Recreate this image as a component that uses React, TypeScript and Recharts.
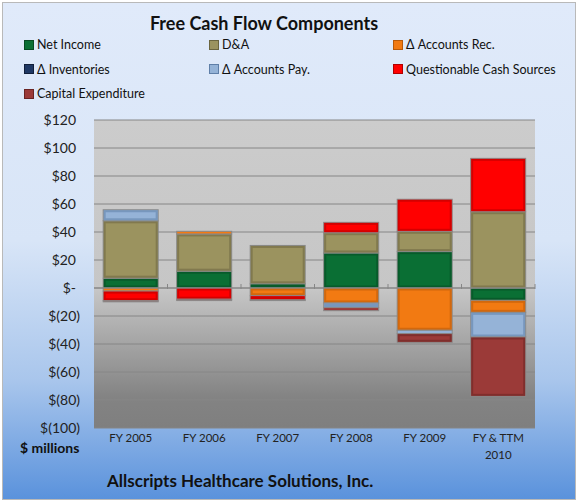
import { BarChart, Bar, XAxis, YAxis, CartesianGrid, ReferenceLine } from "recharts";

const categories = ["FY 2005", "FY 2006", "FY 2007", "FY 2008", "FY 2009", "FY & TTM 2010"];
const netIncome = [7, 12, 3, 25, 26, -8.8];
const depreciation = [41, 26.6, 27.4, 14.5, 14.5, 54.5];
const accountsRec = [-2.2, 1.9, -5.5, -10.7, -30.2, -8.6];
const inventories = [0, 0, 0, 0, 0, 0];
const accountsPay = [7.9, 0, 0, -3.3, -2.4, -17.6];
const questionable = [-6.9, -8, -3, 7.4, 22.9, 38.1];
const capex = [-0.8, -1, -0.5, -2.2, -6.2, -42.4];
const yTicks = [120, 100, 80, 60, 40, 20, 0, -20, -40, -60, -80, -100];

const SERIES = [
  { key: "ni", name: "Net Income", color: "#0a6f34", edge: "#064a22" },
  { key: "da", name: "D&A", color: "#9b935f", edge: "#6b653f" },
  { key: "ar", name: "\u0394 Accounts Rec.", color: "#f27a12", edge: "#b85a0a" },
  { key: "inv", name: "\u0394 Inventories", color: "#1f3864", edge: "#121f3a" },
  { key: "ap", name: "\u0394 Accounts Pay.", color: "#95b3d7", edge: "#5f7fa8" },
  { key: "qcs", name: "Questionable Cash Sources", color: "#ff0000", edge: "#b00000" },
  { key: "capex", name: "Capital Expenditure", color: "#9b3a38", edge: "#6a2423" },
];

const rows = categories.map((name, i) => ({
  name,
  ni: netIncome[i],
  da: depreciation[i],
  ar: accountsRec[i],
  inv: inventories[i],
  ap: accountsPay[i],
  qcs: questionable[i],
  capex: capex[i],
}));

const FONT = "Lato, 'Noto Sans', sans-serif";

function bevel(color: string, edge: string) {
  return (props: any) => {
    const { x, y, width, height } = props;
    if (!height || Math.abs(height) < 0.5) return <g />;
    const top = height < 0 ? y + height : y;
    const h = Math.abs(height);
    return (
      <g>
        <rect x={x} y={top} width={width} height={h} fill={color} stroke="#8a8a8a" strokeWidth={1} />
        {h > 4 && (
          <rect x={x + 1.5} y={top + 1.5} width={width - 3} height={h - 3} fill="none" stroke={edge} strokeWidth={2} opacity={0.55} />
        )}
      </g>
    );
  };
}

const fmtY = (v: number) => (v === 0 ? "$-" : v < 0 ? `$(${-v})` : `$${v}`);

const YTick = (props: any) => {
  const { y, payload } = props;
  const v = payload.value as number;
  return (
    <text x={v < 0 ? 80 : 76} y={y} dy={5} textAnchor="end" fontSize={14} fill="#222" fontFamily={FONT}>
      {fmtY(v)}
    </text>
  );
};

const XTick = (props: any) => {
  const { x, payload } = props;
  const label = String(payload.value);
  const lines = label.length > 10 ? [label.slice(0, label.lastIndexOf(" ")), label.slice(label.lastIndexOf(" ") + 1)] : [label];
  return (
    <text x={x} y={442} textAnchor="middle" fontSize={11.5} fill="#222" fontFamily={FONT}>
      {lines.map((l, i) => (
        <tspan key={i} x={x} dy={i === 0 ? 0 : 17}>{l}</tspan>
      ))}
    </text>
  );
};

// zero line with small tick marks between categories
const ZeroAxis = (props: any) => {
  const { x1, x2, y1 } = props;
  const n = categories.length;
  const step = (x2 - x1) / n;
  return (
    <g>
      <line x1={x1} x2={x2} y1={y1} y2={y1} stroke="#868686" strokeWidth={1} />
      {categories.map((_, i) => (
        <line key={i} x1={x1 + step * (i + 1)} x2={x1 + step * (i + 1)} y1={y1 - 4} y2={y1 + 1} stroke="#868686" />
      ))}
    </g>
  );
};

export default function App() {
  return (
    <div
      style={{
        position: "absolute",
        left: 0,
        top: 0,
        width: 578,
        height: 502,
        fontFamily: FONT,
      }}
    >
      <div
        style={{
          position: "absolute",
          left: 2,
          top: 2,
          width: 572,
          height: 496,
          border: "1px solid #b9b9b9",
          background: "linear-gradient(to bottom, #e0eafa 0%, #d8e5f7 48%, #a9c6ec 76%, #5a92dc 100%)",
        }}
      />
      <div style={{ position: "absolute", left: 0, width: 528, top: 12, textAlign: "center", fontWeight: 700, fontSize: 18, color: "#111" }}>
        Free Cash Flow Components
      </div>
      {SERIES.map((s, i) => (
        <div
          key={s.key}
          style={{
            position: "absolute",
            left: [24, 209, 393][i % 3],
            top: 37 + Math.floor(i / 3) * 24.5,
            display: "flex",
            alignItems: "center",
            fontSize: 12.5,
            color: "#111",
            whiteSpace: "nowrap",
          }}
        >
          <span
            style={{
              display: "inline-block",
              width: 8,
              height: 8,
              background: s.color,
              border: `1px solid ${s.edge}`,
              marginRight: 3,
            }}
          />
          {s.name}
        </div>
      ))}
      <div style={{ position: "absolute", left: 20, top: 439, fontWeight: 700, fontSize: 14, color: "#111" }}>$ millions</div>
      <div style={{ position: "absolute", left: 107, top: 470, fontWeight: 700, fontSize: 17, color: "#111" }}>
        Allscripts Healthcare Solutions, Inc.
      </div>
      <div style={{ position: "absolute", left: 0, top: 0 }}>
        <BarChart
          width={578}
          height={502}
          data={rows}
          stackOffset="sign"
          barCategoryGap="12.5%"
          margin={{ top: 120, right: 43, bottom: 44, left: 0 }}
        >
          <defs>
            <linearGradient id="plotBg" x1="0" y1="0" x2="0" y2="1">
              <stop offset="0%" stopColor="#cccccc" />
              <stop offset="55%" stopColor="#c6c6c6" />
              <stop offset="90%" stopColor="#838383" />
              <stop offset="100%" stopColor="#7f7f7f" />
            </linearGradient>
          </defs>
          <CartesianGrid vertical={false} stroke="#868686" fill="url(#plotBg)" fillOpacity={1} />
          <XAxis dataKey="name" height={30} axisLine={false} tickLine={false} tick={<XTick />} interval={0} />
          <YAxis
            width={94}
            domain={[-100, 120]}
            ticks={yTicks}
            axisLine={false}
            tickLine={false}
            tick={<YTick />}
            interval={0}
          />
          <ReferenceLine y={0} shape={<ZeroAxis />} />
          {SERIES.map((s) => (
            <Bar
              key={s.key}
              dataKey={s.key}
              name={s.name}
              stackId="a"
              fill={s.color}
              shape={bevel(s.color, s.edge)}
              isAnimationActive={false}
            />
          ))}
        </BarChart>
      </div>
    </div>
  );
}
